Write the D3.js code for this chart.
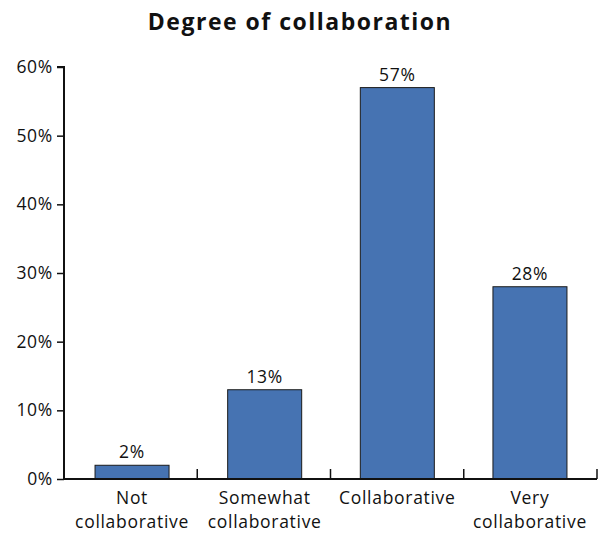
<!DOCTYPE html>
<html><head><meta charset="utf-8">
<script src="https://cdn.jsdelivr.net/npm/d3@7"></script>
<style>body{margin:0;background:#fff;}svg{display:block;font-family:"Open Sans",sans-serif;}</style>
</head><body><svg id="c" width="605" height="533"></svg>
<script>
const categories = [["Not","collaborative"],["Somewhat","collaborative"],["Collaborative"],["Very","collaborative"]];
const values = [2, 13, 57, 28];
const yTicks = [0, 10, 20, 30, 40, 50, 60];
const title = "Degree of collaboration";

const FONT = "'Open Sans',sans-serif";
const FS = 17.5, LS = 0.7;
const svg = d3.select("#c");
const m = {l: 64, r: 7, t: 67, b: 54};
const W = 605, H = 533;
const x = d3.scaleBand().domain(d3.range(categories.length)).range([m.l, W - m.r]).paddingInner(0.442).paddingOuter(0.234);
const y = d3.scaleLinear().domain([0, 60]).range([H - m.b, m.t]);

svg.append("text").attr("x", 300).attr("y", 30).attr("text-anchor", "middle")
  .attr("font-size", 23).attr("font-weight", "bold").attr("letter-spacing", 1.5).attr("fill", "#111").text(title);

svg.selectAll("rect.bar").data(values).join("rect").attr("class", "bar")
  .attr("x", (d, i) => x(i)).attr("width", x.bandwidth())
  .attr("y", d => y(d)).attr("height", d => y(0) - y(d))
  .attr("fill", "#4673b2").attr("stroke", "#1a1a1a").attr("stroke-width", 1);

svg.selectAll("text.val").data(values).join("text").attr("class", "val")
  .attr("x", (d, i) => x(i) + x.bandwidth() / 2).attr("y", d => y(d) - 7)
  .attr("text-anchor", "middle").attr("font-size", FS).attr("letter-spacing", LS).attr("fill", "#111").text(d => d + "%");

// y axis
const ya = d3.axisLeft(y).tickValues(yTicks).tickFormat(d => d + "%").tickSize(7).tickPadding(4);
const yg = svg.append("g").attr("transform", `translate(${m.l},0)`).call(ya);
yg.select(".domain").attr("stroke", "#111").attr("stroke-width", 2).attr("d", `M-7,${y(60)}H0V${y(0)}`);
yg.selectAll(".tick line").attr("stroke", "#111").attr("stroke-width", 1.5);
yg.selectAll(".tick text").attr("font-size", FS).attr("letter-spacing", LS).attr("fill", "#111").attr("font-family", FONT);

// x axis
const xg = svg.append("g");
xg.append("line").attr("x1", m.l).attr("x2", W - m.r - 1).attr("y1", y(0)).attr("y2", y(0)).attr("stroke", "#111").attr("stroke-width", 2);
const bx = d3.range(1, categories.length + 1).map(i => m.l + (W - m.r - 1 - m.l) * i / categories.length);
xg.selectAll("line.tk").data(bx).join("line").attr("class", "tk")
  .attr("x1", d => d).attr("x2", d => d).attr("y1", y(0)).attr("y2", y(0) - 10)
  .attr("stroke", "#111").attr("stroke-width", 1.5);

const lab = xg.selectAll("text.cat").data(categories).join("text").attr("class", "cat")
  .attr("x", (d, i) => x(i) + x.bandwidth() / 2).attr("y", 504)
  .attr("text-anchor", "middle").attr("font-size", FS).attr("letter-spacing", LS).attr("fill", "#111");
lab.selectAll("tspan").data(d => d).join("tspan")
  .attr("x", function() { return d3.select(this.parentNode).attr("x"); })
  .attr("dy", (d, j) => j === 0 ? 0 : 24).text(d => d);
</script></body></html>
